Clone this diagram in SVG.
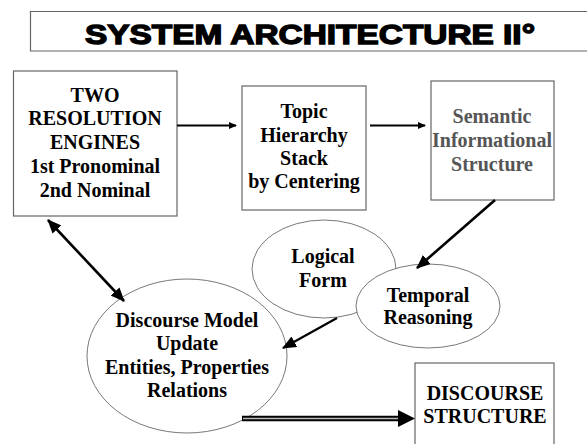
<svg xmlns="http://www.w3.org/2000/svg" width="587" height="444" viewBox="0 0 587 444">
<defs>
<style>
.box{fill:#fff;stroke:#666;stroke-width:1.2}
.ell{fill:#fff;stroke:#555;stroke-width:0.8}
text.t{font-family:'Liberation Serif','Times New Roman',Times,serif;font-weight:700;font-size:20px;fill:#000;text-anchor:middle}
text.g{fill:#555}
.ln{stroke:#000;fill:none}
</style>
<marker id="sm" markerUnits="userSpaceOnUse" markerWidth="8" markerHeight="7" refX="7" refY="3.5" orient="auto">
<path d="M0,0 L8,3.5 L0,7 z" fill="#000"/>
</marker>
<marker id="bg" markerUnits="userSpaceOnUse" markerWidth="14" markerHeight="12" refX="13" refY="6" orient="auto-start-reverse">
<path d="M0,0 L14,6 L0,12 z" fill="#000"/>
</marker>
</defs>
<g id="title">
<path d="M587,11.5 H30.5 V51 H587" fill="#fff" stroke="#666" stroke-width="1.2"/>
<text x="310" y="44" font-family="'Liberation Sans',Arial,sans-serif" font-weight="bold" font-size="28" text-anchor="middle" textLength="450" lengthAdjust="spacingAndGlyphs" stroke="#000" stroke-width="1.4">SYSTEM ARCHITECTURE II°</text>
</g>
<g font-family="Liberation Serif, Times New Roman, serif">
<g id="engines">
<rect class="box" x="13.5" y="71" width="163.5" height="145"/>
<text class="t" x="95" y="102">TWO</text>
<text class="t" x="95" y="125">RESOLUTION</text>
<text class="t" x="95" y="149">ENGINES</text>
<text class="t" x="95" y="173">1st Pronominal</text>
<text class="t" x="95" y="197">2nd Nominal</text>
</g>
<g id="topic">
<rect class="box" x="242" y="86" width="124" height="124"/>
<text class="t" x="304" y="118">Topic</text>
<text class="t" x="304" y="142">Hierarchy</text>
<text class="t" x="304" y="165">Stack</text>
<text class="t" x="304" y="188">by Centering</text>
</g>
<g id="semantic">
<rect class="box" x="431" y="81" width="123" height="119"/>
<text class="t g" x="492" y="123">Semantic</text>
<text class="t g" x="492" y="147">Informational</text>
<text class="t g" x="492" y="171">Structure</text>
</g>
<g id="logical">
<ellipse class="ell" cx="324" cy="269" rx="72" ry="49"/>
<text class="t" x="323" y="263">Logical</text>
<text class="t" x="323" y="287">Form</text>
</g>
<g id="temporal">
<ellipse class="ell" cx="428" cy="306" rx="72" ry="42"/>
<text class="t" x="428" y="302">Temporal</text>
<text class="t" x="428" y="324">Reasoning</text>
</g>
<g id="discourse-model">
<ellipse class="ell" cx="187" cy="356" rx="100" ry="77"/>
<text class="t" x="187" y="327">Discourse Model</text>
<text class="t" x="187" y="350">Update</text>
<text class="t" x="187" y="374">Entities, Properties</text>
<text class="t" x="187" y="397">Relations</text>
</g>
<g id="discourse-structure">
<rect class="box" x="415" y="363" width="139" height="90"/>
<text class="t" x="485" y="400">DISCOURSE</text>
<text class="t" x="485" y="423">STRUCTURE</text>
</g>
</g>
<g id="connectors">
<line class="ln" x1="177" y1="125.5" x2="236" y2="125.5" stroke-width="2" marker-end="url(#sm)"/>
<line class="ln" x1="370" y1="125.5" x2="425" y2="125.5" stroke-width="2" marker-end="url(#sm)"/>
<line class="ln" x1="495" y1="200" x2="417" y2="268" stroke-width="2.6" marker-end="url(#bg)"/>
<line class="ln" x1="337" y1="318" x2="283" y2="348" stroke-width="2.2" marker-end="url(#bg)"/>
<line class="ln" x1="48" y1="220" x2="124" y2="301" stroke-width="2.6" marker-start="url(#bg)" marker-end="url(#bg)"/>
<line x1="242" y1="418.5" x2="400" y2="418.5" stroke="#000" stroke-width="5.5"/>
<line x1="243" y1="418.5" x2="400" y2="418.5" stroke="#bbb" stroke-width="1.6"/>
<path d="M398,410 L415,418.5 L398,427 z" fill="#000"/>
</g>
</svg>
